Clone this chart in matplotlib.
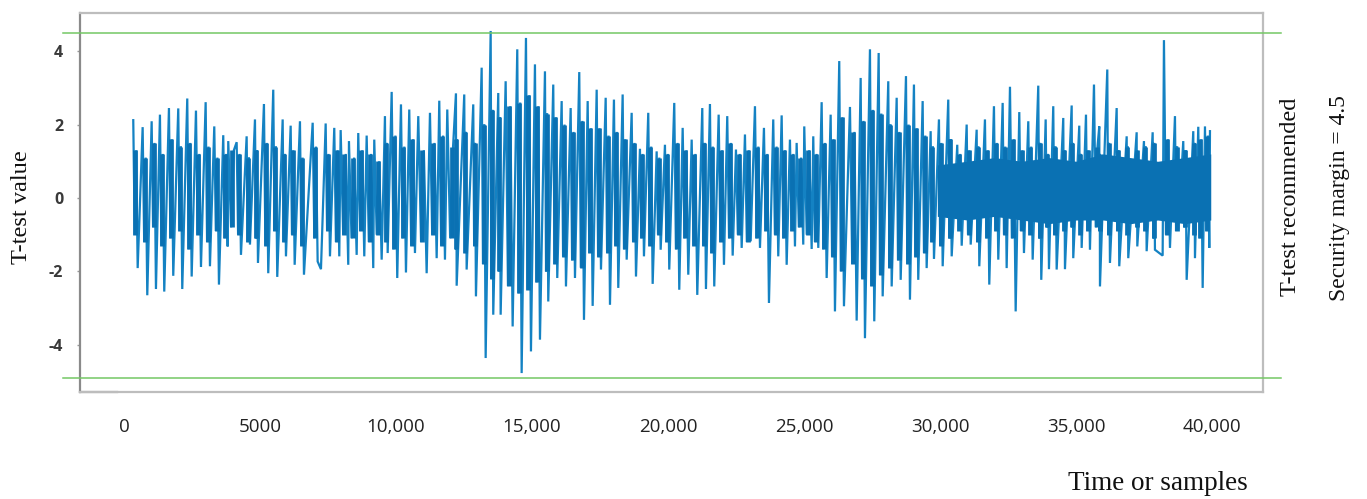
import matplotlib
matplotlib.use("Agg")
import matplotlib.pyplot as plt
from matplotlib.lines import Line2D

# Local maxima of the t-test trace: sample index and value
peak_samples = [
    342, 687, 1018, 1323, 1654, 1996, 2327, 2647, 3003, 3320, 3650, 3834, 4143, 4510,
    4816, 5146, 5488, 5834, 6128, 6470, 6937, 7415, 7731, 7966, 8271, 8613, 8922, 9201,
    9594, 9841, 10183, 10488, 10819, 11249, 11591, 11885, 12204, 12509, 12840, 13149,
    13480, 13759, 14031, 14458, 14778, 15108, 15476, 15781, 16090, 16421, 16737, 17046,
    17377, 17708, 18012, 18332, 18663, 18968, 19273, 19582, 19887, 20229, 20538, 20869,
    21259, 21541, 21861, 22177, 22497, 22828, 23196, 23526, 23868, 24177, 24482, 24728,
    25008, 25339, 25647, 25978, 26294, 26688, 27081, 27423, 27743, 28096, 28405, 28747,
    29040, 29360, 29654, 29959, 30301, 30632, 30978, 31345, 31650, 31981, 32301, 32570,
    32912, 33243, 33610, 33882, 34161, 34529, 34838, 35117, 35364, 35658, 35853, 36147,
    36492, 36860, 37227, 37495, 37815, 38230, 38635, 38940, 39308, 39492, 39738, 39922,
]
peak_values = [
    2.12, 1.93, 2.09, 2.27, 2.45, 2.44, 2.71, 2.38, 2.61, 1.95, 1.71, 1.55, 1.52, 1.68,
    2.14, 2.56, 2.95, 2.14, 1.97, 2.09, 2.05, 2.03, 1.91, 1.85, 1.55, 1.77, 1.70, 1.59,
    2.23, 2.89, 2.55, 2.41, 2.23, 2.32, 2.65, 2.41, 2.85, 2.82, 2.55, 3.55,
    4.55, 2.86, 3.18, 4.05, 4.36, 3.64, 3.45, 3.09, 2.64, 2.45, 3.43, 2.64,
    2.95, 2.73, 2.68, 2.82, 2.32, 1.34, 2.32, 1.27, 1.45, 2.59, 1.91, 1.59,
    2.45, 2.56, 2.27, 2.23, 1.32, 1.73, 2.50, 1.91, 2.14, 2.25, 1.59, 1.50,
    1.95, 1.68, 2.61, 2.27, 3.73, 2.48, 3.27, 4.05, 3.95, 3.18, 2.73, 3.32,
    3.09, 2.64, 1.82, 2.14, 2.68, 1.45, 2.00, 1.86, 2.14, 2.50, 2.59, 3.03,
    2.34, 2.09, 3.06, 2.14, 2.50, 2.18, 2.52, 1.97, 2.27, 3.09, 1.95, 3.50,
    2.45, 1.68, 1.79, 1.55, 1.79, 4.30, 2.23, 1.55, 1.82, 1.94, 1.95, 1.82,
]

# Extent of the dense body that follows each maximum (upper and lower edge)
body_high = [
    1.3, 1.1, 1.5, 1.2, 1.6, 1.4, 1.5, 1.2, 1.4, 1.1, 1.2, 1.3, 1.2, 1.1,
    1.3, 1.5, 1.4, 1.2, 1.3, 1.1, 1.4, 1.2, 1.3, 1.2, 1.1, 1.3, 1.2, 1.0,
    1.5, 1.7, 1.4, 1.6, 1.3, 1.5, 1.7, 1.4, 1.6, 1.8, 1.5, 2.0,
    2.4, 2.2, 2.5, 2.6, 2.8, 2.5, 2.3, 2.2, 2.0, 1.8, 2.1, 1.9,
    1.9, 1.7, 1.8, 1.6, 1.5, 1.2, 1.4, 1.1, 1.2, 1.5, 1.3, 1.2,
    1.5, 1.4, 1.3, 1.5, 1.2, 1.3, 1.4, 1.2, 1.4, 1.3, 1.2, 1.1,
    1.3, 1.2, 1.5, 1.6, 2.2, 1.8, 2.1, 2.4, 2.3, 2.0, 1.8, 2.0,
    1.9, 1.7, 1.4, 1.5, 1.6, 1.2, 1.3, 1.4, 1.3, 1.5, 1.4, 1.6,
    1.3, 1.4, 1.5, 1.2, 1.4, 1.3, 1.5, 1.2, 1.3, 1.4, 1.2, 1.5,
    1.3, 1.4, 1.3, 1.4, 1.5, 1.6, 1.4, 1.3, 1.5, 1.6, 1.7, 1.7,
]
body_low = [
    -1.0, -1.2, -0.8, -1.3, -1.1, -0.9, -1.4, -1.0, -1.2, -0.9, -1.1, -0.8, -1.0, -1.2,
    -1.1, -1.3, -0.9, -1.2, -1.0, -1.3, -1.1, -0.9, -1.2, -1.0, -1.1, -0.9, -1.2, -1.0,
    -1.2, -1.4, -1.1, -1.3, -1.2, -1.0, -1.3, -1.1, -1.4, -1.5, -1.3, -1.8,
    -2.2, -2.0, -2.4, -2.6, -2.5, -2.3, -2.0, -1.8, -1.6, -1.7, -1.9, -1.5,
    -1.6, -1.5, -1.3, -1.4, -1.2, -1.1, -1.3, -1.0, -1.2, -1.4, -1.1, -1.3,
    -1.3, -1.5, -1.2, -1.1, -1.0, -1.2, -1.1, -0.9, -1.0, -1.1, -0.9, -0.8,
    -1.0, -1.2, -1.4, -1.6, -2.0, -1.8, -2.2, -2.4, -2.1, -1.9, -1.7, -1.8,
    -1.6, -1.5, -1.2, -1.3, -1.1, -0.9, -1.0, -1.2, -1.1, -0.9, -1.0, -1.1,
    -0.9, -1.0, -1.1, -0.8, -1.0, -0.9, -0.8, -1.0, -0.9, -0.8, -0.9, -1.0,
    -0.9, -1.0, -0.8, -0.9, -1.1, -1.0, -0.9, -0.8, -1.0, -1.1, -0.9, -1.0,
]

# Local minima of the t-test trace: sample index and value
trough_samples = [
    504, 857, 1176, 1481, 1812, 2143, 2489, 2831, 3161, 3492, 3812, 4301, 4632, 4926,
    5304, 5635, 5955, 6275, 6617, 7120, 7242, 7573, 7915, 8245, 8554, 8834, 9164, 9473,
    9694, 10046, 10366, 10697, 11127, 11495, 11800, 12230, 12597, 12939, 13296, 13575,
    13847, 14288, 14619, 14961, 15292, 15597, 15928, 16248, 16579, 16910, 17229, 17535,
    17866, 18171, 18480, 18822, 19115, 19435, 19729, 20045, 20413, 20744, 21075, 21394,
    21699, 22056, 22376, 22707, 23038, 23380, 23710, 24052, 24361, 24666, 24971, 25280,
    25523, 25831, 26136, 26467, 26934, 27239, 27581, 27890, 28221, 28552, 28893, 29198,
    29507, 29776, 30096, 30427, 30795, 31126, 31442, 31809, 32140, 32448, 32779, 33084,
    33404, 33720, 34003, 34286, 34591, 34896, 35205, 35510, 35878, 36245, 36587, 36918,
    37250, 37594, 37899, 38182, 38451, 38756, 39065, 39370, 39653, 39896,
]
trough_values = [
    -1.91, -2.65, -2.48, -2.55, -2.12, -2.48, -2.14, -1.88, -1.86, -2.36, -1.32, -1.55, -1.27, -1.77,
    -2.05, -2.15, -1.59, -1.82, -2.09, -1.73, -1.94, -1.59, -1.59, -1.82, -1.55, -1.59, -1.91, -1.68,
    -1.50, -2.18, -2.03, -1.50, -2.05, -1.64, -1.68, -2.39, -1.95, -2.68, -4.36, -3.18,
    -3.18, -3.50, -4.77, -4.18, -3.86, -2.82, -2.18, -2.41, -2.18, -3.32, -2.94, -1.95,
    -2.91, -2.45, -1.68, -2.14, -1.59, -2.34, -1.41, -1.95, -2.50, -2.09, -2.64, -2.48,
    -2.41, -1.82, -1.57, -1.36, -1.18, -1.36, -2.86, -1.59, -1.82, -1.32, -1.27, -1.39,
    -1.36, -2.18, -3.09, -2.95, -3.34, -3.82, -3.36, -2.68, -2.41, -2.23, -2.77, -2.23,
    -1.91, -1.66, -1.86, -1.59, -1.30, -1.27, -1.86, -2.36, -1.68, -1.91, -3.09, -1.50,
    -1.68, -2.23, -1.94, -1.95, -1.94, -1.64, -1.36, -1.41, -2.41, -1.77, -1.86, -1.64,
    -1.32, -1.45, -1.41, -1.57, -1.36, -0.86, -2.23, -1.64, -2.45, -1.36,
]

# Solid high-frequency band in the last part of the record
dense_samples = [29900, 31000, 32000, 33000, 34000, 35000, 36000, 37000, 38000, 39000, 39950]
dense_high = [0.9, 1.0, 1.1, 1.0, 1.1, 1.0, 1.2, 1.1, 1.0, 1.1, 1.2]
dense_low = [-0.5, -0.6, -0.5, -0.6, -0.7, -0.6, -0.6, -0.7, -0.6, -0.7, -0.6]

x_ticks = [0, 5000, 10000, 15000, 20000, 25000, 30000, 35000, 40000]
x_tick_labels = ["0", "5000", "10,000", "15,000", "20,000", "25,000", "30,000", "35,000", "40,000"]
y_ticks = [-4, -2, 0, 2, 4]
y_tick_labels = ["-4", "-2", "0", "2", "4"]

security_margin = 4.5
lower_margin_line = -4.9

line_blue = "#1482c3"
core_blue = "#0a71b3"

# Order all extremes in time; after each maximum the trace dips through its body
events = sorted(
    [(s, v, i) for i, (s, v) in enumerate(zip(peak_samples, peak_values))]
    + [(s, v, None) for s, v in zip(trough_samples, trough_values)]
)
trace_x, trace_y = [], []
body_x, body_lo, body_hi = [], [], []
for k, (s, v, peak_idx) in enumerate(events):
    trace_x.append(s)
    trace_y.append(v)
    if peak_idx is not None and k + 1 < len(events):
        gap = events[k + 1][0] - s
        trace_x += [s + gap / 3, s + 2 * gap / 3]
        trace_y += [body_low[peak_idx], body_high[peak_idx]]
        body_x.append(s + gap / 2)
        body_lo.append(body_low[peak_idx])
        body_hi.append(body_high[peak_idx])

fig = plt.figure(figsize=(13.67, 4.99), dpi=100)
ax = fig.add_axes([0.0585, 0.2144, 0.8654, 0.7596])

ax.plot(trace_x, trace_y, color=line_blue, lw=1.6, solid_joinstyle="miter", zorder=2)
ax.fill_between(dense_samples, dense_low, dense_high, color=core_blue, lw=0, zorder=2.1)
ax.vlines(body_x, body_lo, body_hi, color=core_blue, lw=3.4, zorder=2.1)

ax.set_xlim(-1617, 41870)
ax.set_ylim(-5.286, 5.04)

# Threshold lines reaching slightly past the frame
for yv in (security_margin, lower_margin_line):
    ax.axhline(yv, xmin=-0.0144, xmax=1.0152, color="#74c865", lw=1.1, clip_on=False, zorder=3)

for side in ("top", "right", "bottom"):
    ax.spines[side].set_color("#bdbdbd")
    ax.spines[side].set_linewidth(1.6)
ax.spines["left"].set_color("#8a8a8a")
ax.spines["left"].set_linewidth(1.6)
ax.add_line(Line2D([0, 0.031], [0, 0], transform=ax.transAxes, color="#8a8a8a",
                   lw=1.6, clip_on=False))

ax.set_xticks(x_ticks)
ax.set_xticklabels(x_tick_labels, family="Open Sans", fontsize=13.5, color="#222222")
ax.tick_params(axis="x", length=0, pad=19)
ax.set_yticks(y_ticks)
ax.set_yticklabels(y_tick_labels, family="Open Sans", fontsize=11.5, fontweight="bold", color="#3a3a3a")
ax.tick_params(axis="y", length=2, width=1, color="#999999", pad=10)

serif = "Liberation Serif"
fig.text(22 / 1367, 1 - 207 / 499, "T-test value", rotation=90, ha="center", va="center",
         family=serif, fontsize=17.5, color="#111111")
fig.text(1158 / 1367, 1 - 484 / 499, "Time or samples", ha="center", va="center",
         family=serif, fontsize=19.5, color="#111111")
fig.text(1291 / 1367, 1 - 197 / 499, "T-test recommended", rotation=90, ha="center", va="center",
         family=serif, fontsize=17.5, color="#111111")
fig.text(1340 / 1367, 1 - 198 / 499, "Security margin = 4.5", rotation=90, ha="center", va="center",
         family=serif, fontsize=17, color="#111111")

fig.savefig("out.png", dpi=100)
